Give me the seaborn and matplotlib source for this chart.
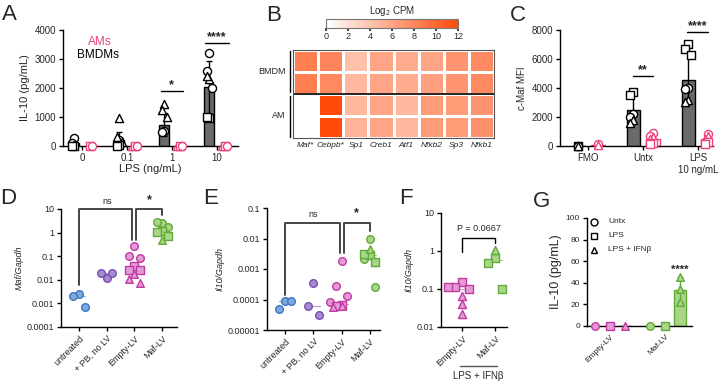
import numpy as np
import pandas as pd
import matplotlib
matplotlib.use("Agg")
import matplotlib.pyplot as plt
import seaborn as sns
from matplotlib.colors import LinearSegmentedColormap
from matplotlib.lines import Line2D

# ---------------- DATA ----------------
# Panel A
A_doses = ["0", "0.1", "1", "10"]
A_bmdm_mean = [100, 200, 730, 2020]
A_bmdm_sd = [120, 280, 400, 910]
A_am_mean = [0, 0, 0, 0]
A_bmdm_circ = [[260, 120], [200, 80], [500, 480], [3200, 2600, 2000]]
A_bmdm_tri = [[40], [950, 300, 150], [1450, 1250, 1000], [2300, 2400]]
A_bmdm_sq = [[0, 10], [50, 0], [], [950, 1000]]
A_am_circ = [[0], [0], [0], [0]]
A_am_tri = [[], [0], [0], [0]]
A_am_sq = [[0], [0], [0], [0]]

# Panel B
B_genes = ["Maf*", "Cebpb*", "Sp1", "Creb1", "Atf1", "Nfkb2", "Sp3", "Nfkb1"]
B_rows = ["BMDM", "BMDM", "AM", "AM"]
B_bmdm1 = [8.5, 8.0, 4.2, 6.0, 5.6, 6.0, 7.0, 7.8]
B_bmdm2 = [8.5, 7.8, 4.6, 6.0, 5.6, 6.2, 7.0, 7.8]
B_am1 = [0.0, 12.0, 4.8, 6.0, 4.6, 6.6, 6.6, 7.0]
B_am2 = [0.0, 12.0, 5.0, 6.0, 4.6, 6.6, 6.6, 7.2]

# Panel C
C_groups = ["FMO", "Untx", "LPS\n10 ng/mL"]
C_bmdm_mean = [0, 2450, 4550]
C_bmdm_sd = [0, 1080, 1550]
C_am_mean = [100, 500, 450]
C_bmdm_sq = [[0], [3700, 3500], [7000, 6700, 6300]]
C_bmdm_circ = [[0], [2200, 2000], [4000, 3900]]
C_bmdm_tri = [[0], [1800, 1600], [3200, 3000]]
C_am_circ = [[150], [900, 700], [800]]
C_am_tri = [[100], [600, 500], [700, 500]]
C_am_sq = [[], [200, 150], [250, 150]]

# Panel D
D_groups = ["untreated", "+ PB, no LV", "Empty-LV", "Maf-LV"]
D_circ = [[0.0026, 0.002, 0.00072], [0.0114, 0.0197, 0.0197], [0.26, 0.1, 0.085], [2.6, 2.8, 1.7]]
D_sq = [[], [], [0.04, 0.025, 0.025], [1.14, 1.1, 0.7]]
D_tri = [[], [], [0.017, 0.0103, 0.007], [0.47]]

# Panel E
E_groups = ["untreated", "+ PB, no LV", "Empty-LV", "Maf-LV"]
E_circ = [[8.8e-5, 4.8e-5, 8.8e-5], [3.6e-4, 6.2e-5, 3.0e-5],
          [1.86e-3, 2.75e-4, 1.3e-4, 8e-5], [0.01, 2.2e-3, 2.6e-4]]
E_sq = [[], [], [6.5e-5, 6.0e-5], [2.85e-3, 3.2e-3, 1.65e-3]]
E_tri = [[], [], [6.0e-5, 5.8e-5], [4.7e-3]]

# Panel F
F_groups = ["Empty-LV", "Maf-LV"]
F_sq = [[0.15, 0.11, 0.1, 0.11], [0.66, 0.49, 0.1]]
F_tri = [[0.067, 0.04, 0.022], [1.04]]

# Panel G
G_groups = ["Empty-LV", "Maf-LV"]
G_treat = ["Untx", "LPS", "LPS + IFNβ"]
G_mean = [[0, 0, 0], [0, 0, 33.7]]
G_sd = [[0, 0, 0], [0, 0, 11.3]]
G_points = [[[0], [0], [0]], [[0], [0], [22.4, 33.9, 45.0]]]

# ---------------- STYLE ----------------
sns.set_theme(style="ticks")
plt.rcParams['font.family'] = ['Liberation Sans', 'DejaVu Sans']
plt.rcParams['axes.linewidth'] = 1.0
plt.rcParams['mathtext.fontset'] = 'custom'
plt.rcParams['mathtext.rm'] = 'Liberation Sans'
plt.rcParams['mathtext.it'] = 'Liberation Sans:italic'

W, H = 720, 384
fig = plt.figure(figsize=(7.2, 3.84), dpi=100)
fig.patch.set_facecolor("white")


def rect(x0, y0, x1, y1):
    return [x0 / W, 1 - y1 / H, (x1 - x0) / W, (y1 - y0) / H]


def fx(x):
    return x / W


def fy(y):
    return 1 - y / H


def style(ax, ls=7):
    sns.despine(ax=ax)
    ax.tick_params(length=3, width=1, labelsize=ls, pad=2, color="black")
    for s in ["left", "bottom"]:
        ax.spines[s].set_color("black")
    ax.set_facecolor("none")


def spread(n, step):
    return np.array([(-1) ** i * ((i + 1) // 2) for i in range(n)]) * step


def pts(ax, xc, vals, marker, face, edge, s=34, step=0.06, lw=1.0):
    if len(vals) == 0:
        return
    x = xc + spread(len(vals), step)
    sns.scatterplot(x=x, y=vals, marker=marker, s=s, color=face, edgecolor=edge,
                    linewidth=lw, ax=ax, legend=False, zorder=5, clip_on=False)


def sig(ax, x0, x1, y, txt, fs=9):
    ax.plot([x0, x1], [y, y], color="black", lw=1, clip_on=False)
    ax.text((x0 + x1) / 2, y, txt, ha="center", va="bottom", fontsize=fs,
            fontweight="bold")


def letter(x, y, t):
    fig.text(fx(x), fy(y), t, fontsize=16, ha="left", va="top")


PINK = "#f0407f"
GRAY = "#6a6a6a"

# ---------------- PANEL A ----------------
axA = fig.add_axes(rect(63, 30, 238, 146))
xs = np.arange(len(A_doses))
axA.bar(xs - 0.17, A_bmdm_mean, width=0.22, color=GRAY, edgecolor="black", lw=1, zorder=2)
axA.errorbar(xs - 0.17, A_bmdm_mean, yerr=A_bmdm_sd, fmt="none", ecolor="black",
             elinewidth=1, capsize=2.5, zorder=3)
axA.bar(xs + 0.17, A_am_mean, width=0.22, color="white", edgecolor=PINK, lw=1, zorder=2)
for i in range(len(xs)):
    pts(axA, xs[i] - 0.17, A_bmdm_circ[i], "o", "white", "black")
    pts(axA, xs[i] - 0.17, A_bmdm_tri[i], "^", "white", "black")
    pts(axA, xs[i] - 0.17, A_bmdm_sq[i], "s", "white", "black")
    pts(axA, xs[i] + 0.17 - 0.06, A_am_tri[i], "^", "white", PINK, step=0)
    pts(axA, xs[i] + 0.17, A_am_sq[i], "s", "white", PINK, step=0)
    pts(axA, xs[i] + 0.17 + 0.06, A_am_circ[i], "o", "white", PINK, step=0)
axA.set_xlim(-0.42, 3.47)
axA.set_ylim(0, 4000)
axA.set_yticks([0, 1000, 2000, 3000, 4000])
axA.set_xticks(xs)
axA.set_xticklabels(A_doses)
style(axA)
axA.set_xlabel("LPS (ng/mL)", fontsize=8, labelpad=1)
axA.set_ylabel("IL-10 (pg/mL)", fontsize=8, labelpad=3)
sig(axA, 1.76, 2.24, 1900, "*")
sig(axA, 2.73, 3.27, 3550, "****")
fig.text(fx(100), fy(42), "AMs", color=PINK, fontsize=8.5, ha="center", va="center")
fig.text(fx(98), fy(55), "BMDMs", color="black", fontsize=8.5, ha="center", va="center")
letter(2, 4, "A")

# ---------------- PANEL B ----------------
axB = fig.add_axes(rect(293, 50, 494, 138))
caxB = fig.add_axes(rect(326, 19, 458, 28))
cmap = LinearSegmentedColormap.from_list("wo", ["#ffffff", "#ff4a0a"])
dfB = pd.DataFrame([B_bmdm1, B_bmdm2, B_am1, B_am2], columns=B_genes)
sns.heatmap(dfB, ax=axB, cmap=cmap, vmin=0, vmax=12, linewidths=1, linecolor="white",
            cbar_ax=caxB, cbar_kws={"orientation": "horizontal", "ticks": [0, 2, 4, 6, 8, 10, 12]},
            xticklabels=B_genes, yticklabels=False)
axB.axhline(2, color="black", lw=1.2)
for s in axB.spines.values():
    s.set_visible(True)
    s.set_color("#555555")
    s.set_linewidth(0.8)
axB.tick_params(axis="x", length=0, pad=3)
for t in axB.get_xticklabels():
    t.set_fontstyle("italic")
    t.set_fontsize(6)
    t.set_rotation(0)
axB.plot([-0.13, -0.13], [0.03, 1.93], color="black", lw=1, clip_on=False)
axB.plot([-0.13, -0.13], [2.1, 3.97], color="black", lw=1, clip_on=False)
axB.text(-0.3, 1.0, "BMDM", ha="right", va="center", fontsize=6.5)
axB.text(-0.3, 3.0, "AM", ha="right", va="center", fontsize=6.5)
caxB.tick_params(labelsize=6.5, length=2, pad=1)
for s in caxB.spines.values():
    s.set_color("#777777")
    s.set_linewidth(0.8)
fig.text(fx(392), fy(11), "Log$_2$ CPM", fontsize=7, ha="center", va="center")
letter(266, 5, "B")

# ---------------- PANEL C ----------------
axC = fig.add_axes(rect(560, 30, 713, 146))
xc = np.arange(len(C_groups))
axC.bar(xc - 0.18, C_bmdm_mean, width=0.24, color=GRAY, edgecolor="black", lw=1, zorder=2)
axC.errorbar(xc - 0.18, C_bmdm_mean, yerr=C_bmdm_sd, fmt="none", ecolor="black",
             elinewidth=1, capsize=0, zorder=3)
axC.bar(xc + 0.18, C_am_mean, width=0.24, color="white", edgecolor=PINK, lw=1, zorder=2)
for i in range(len(xc)):
    pts(axC, xc[i] - 0.18, C_bmdm_sq[i], "s", "white", "black", step=0.05)
    pts(axC, xc[i] - 0.18, C_bmdm_circ[i], "o", "white", "black", step=0.05)
    pts(axC, xc[i] - 0.18, C_bmdm_tri[i], "^", "white", "black", step=0.05)
    pts(axC, xc[i] + 0.18, C_am_circ[i], "o", "white", PINK, step=0.05)
    pts(axC, xc[i] + 0.18, C_am_tri[i], "^", "white", PINK, step=0.05)
    pts(axC, xc[i] + 0.18, C_am_sq[i], "s", "white", PINK, step=0.05)
axC.set_xlim(-0.51, 2.27)
axC.set_ylim(0, 8000)
axC.set_yticks([0, 2000, 4000, 6000, 8000])
axC.set_xticks(xc)
axC.set_xticklabels(C_groups)
style(axC)
axC.set_ylabel("c-Maf MFI", fontsize=7, labelpad=3)
sig(axC, 0.82, 1.18, 4830, "**")
sig(axC, 1.79, 2.18, 7860, "****")
letter(510, 5, "C")

# ---------------- colours for D-G ----------------
FACE = ["#80aade", "#a48bcf", "#e39bd8", "#a8d687"]
EDGE = ["#3c74c2", "#7650b5", "#c13aa0", "#62ab3a"]


def logax(ax, lo, hi, labels):
    ax.set_yscale("log")
    ax.set_ylim(lo, hi)
    ticks = [10.0 ** k for k in range(int(np.log10(lo)), int(np.log10(hi)) + 1)]
    ax.set_yticks(ticks)
    ax.set_yticklabels(labels)
    ax.yaxis.set_minor_locator(matplotlib.ticker.NullLocator())


def rotx(ax, labels, fs=6.5):
    ax.set_xticks(np.arange(len(labels)))
    ax.set_xticklabels(labels, rotation=45, ha="right", rotation_mode="anchor", fontsize=fs)


def median_line(ax, x, vals, col, half=0.22):
    m = np.median(vals)
    ax.plot([x - half, x + half], [m, m], color=col, lw=0.9, alpha=0.55, zorder=4)


# ---------------- PANEL D ----------------
axD = fig.add_axes(rect(61, 209, 177, 327))
for i in range(4):
    allv = D_circ[i] + D_sq[i] + D_tri[i]
    median_line(axD, i, allv, EDGE[i])
    pts(axD, i, D_circ[i], "o", FACE[i], EDGE[i], s=30, step=0.2)
    pts(axD, i, D_sq[i], "s", FACE[i], EDGE[i], s=30, step=0.2)
    pts(axD, i, D_tri[i], "^", FACE[i], EDGE[i], s=30, step=0.2)
logax(axD, 1e-4, 10, ["0.0001", "0.001", "0.01", "0.1", "1", "10"])
axD.set_xlim(-0.65, 3.54)
rotx(axD, D_groups)
style(axD, ls=6.5)
axD.set_ylabel("Maf/Gapdh", fontsize=6.5, fontstyle="italic", labelpad=2)
axD.plot([0, 0, 1.93, 1.93], [0.006, 10, 10, 0.5], color="#444444", lw=1.4, clip_on=False)
axD.plot([2.07, 2.07, 3, 3], [0.5, 10, 10, 5.6], color="#444444", lw=1.4, clip_on=False)
axD.text(1.0, 13, "ns", ha="center", va="bottom", fontsize=6.5)
axD.text(2.53, 13, "*", ha="center", va="bottom", fontsize=9, fontweight="bold")
letter(0, 188, "D")

# ---------------- PANEL E ----------------
axE = fig.add_axes(rect(267, 208, 380, 330))
for i in range(4):
    allv = E_circ[i] + E_sq[i] + E_tri[i]
    median_line(axE, i, allv, EDGE[i])
    pts(axE, i, E_circ[i], "o", FACE[i], EDGE[i], s=30, step=0.2)
    pts(axE, i, E_sq[i], "s", FACE[i], EDGE[i], s=30, step=0.2)
    pts(axE, i, E_tri[i], "^", FACE[i], EDGE[i], s=30, step=0.3)
logax(axE, 1e-5, 0.1, ["0.00001", "0.0001", "0.001", "0.01", "0.1"])
axE.set_xlim(-0.64, 3.36)
rotx(axE, E_groups)
style(axE, ls=6.5)
axE.set_ylabel("Il10/Gapdh", fontsize=6.5, fontstyle="italic", labelpad=2)
axE.plot([0, 0, 1.93, 1.93], [1.4e-4, 0.032, 0.032, 0.0033], color="#444444", lw=1.4, clip_on=False)
axE.plot([2.07, 2.07, 3, 3], [0.0033, 0.032, 0.032, 0.018], color="#444444", lw=1.4, clip_on=False)
axE.text(1.0, 0.042, "ns", ha="center", va="bottom", fontsize=6.5)
axE.text(2.53, 0.042, "*", ha="center", va="bottom", fontsize=9, fontweight="bold")
letter(203, 188, "E")

# ---------------- PANEL F ----------------
axF = fig.add_axes(rect(441, 213, 507, 327))
fcol = [(FACE[2], EDGE[2]), (FACE[3], EDGE[3])]
for i in range(2):
    median_line(axF, i, F_sq[i] + F_tri[i], fcol[i][1])
    pts(axF, i, F_sq[i], "s", fcol[i][0], fcol[i][1], s=34, step=0.22)
    pts(axF, i, F_tri[i], "^", fcol[i][0], fcol[i][1], s=34, step=0.0)
logax(axF, 0.01, 10, ["0.01", "0.1", "1", "10"])
axF.set_xlim(-0.64, 1.36)
rotx(axF, F_groups)
style(axF, ls=6.5)
axF.set_ylabel("Il10/Gapdh", fontsize=6.5, fontstyle="italic", labelpad=2)
axF.plot([0, 0, 1, 1], [0.93, 2.2, 2.2, 1.6], color="black", lw=1, clip_on=False)
axF.text(0.5, 2.9, "P = 0.0667", ha="center", va="bottom", fontsize=6.5)
fig.add_artist(Line2D([fx(460), fx(497)], [fy(366), fy(366)], color="#555555", lw=1))
fig.text(fx(478), fy(376), "LPS + IFNβ", fontsize=7, ha="center", va="center")
letter(399, 188, "F")

# ---------------- PANEL G ----------------
axG = fig.add_axes(rect(587, 218, 692, 326))
gmark = ["o", "s", "^"]
offs = [-0.27, 0.0, 0.27]
for g in range(2):
    face, edge = FACE[2 + g], EDGE[2 + g]
    for t in range(3):
        xp = g + offs[t]
        axG.bar(xp, G_mean[g][t], width=0.22, color=face, edgecolor=edge, lw=1, zorder=2)
        if G_sd[g][t] > 0:
            axG.errorbar(xp, G_mean[g][t], yerr=G_sd[g][t], fmt="none", ecolor=edge,
                         elinewidth=1, capsize=2.5, zorder=3)
        pts(axG, xp, G_points[g][t], gmark[t], face, edge, s=30, step=0.0)
axG.set_ylim(0, 100)
axG.set_yticks([0, 20, 40, 60, 80, 100])
axG.set_xlim(-0.42, 1.49)
rotx(axG, G_groups, fs=6)
style(axG, ls=6)
axG.set_ylabel("IL-10 (pg/mL)", fontsize=9, labelpad=3)
axG.text(1.27, 47, "****", ha="center", va="bottom", fontsize=8, fontweight="bold")
for k in range(3):
    yk = 0.965 - k * 0.13
    axG.plot([0.07], [yk], marker=gmark[k], ms=5, mfc="white", mec="black", mew=1,
             transform=axG.transAxes, clip_on=False, ls="none")
    axG.text(0.2, yk, G_treat[k], transform=axG.transAxes, fontsize=6, va="center", ha="left")
letter(533, 191, "G")

fig.savefig("out.png", dpi=100)
